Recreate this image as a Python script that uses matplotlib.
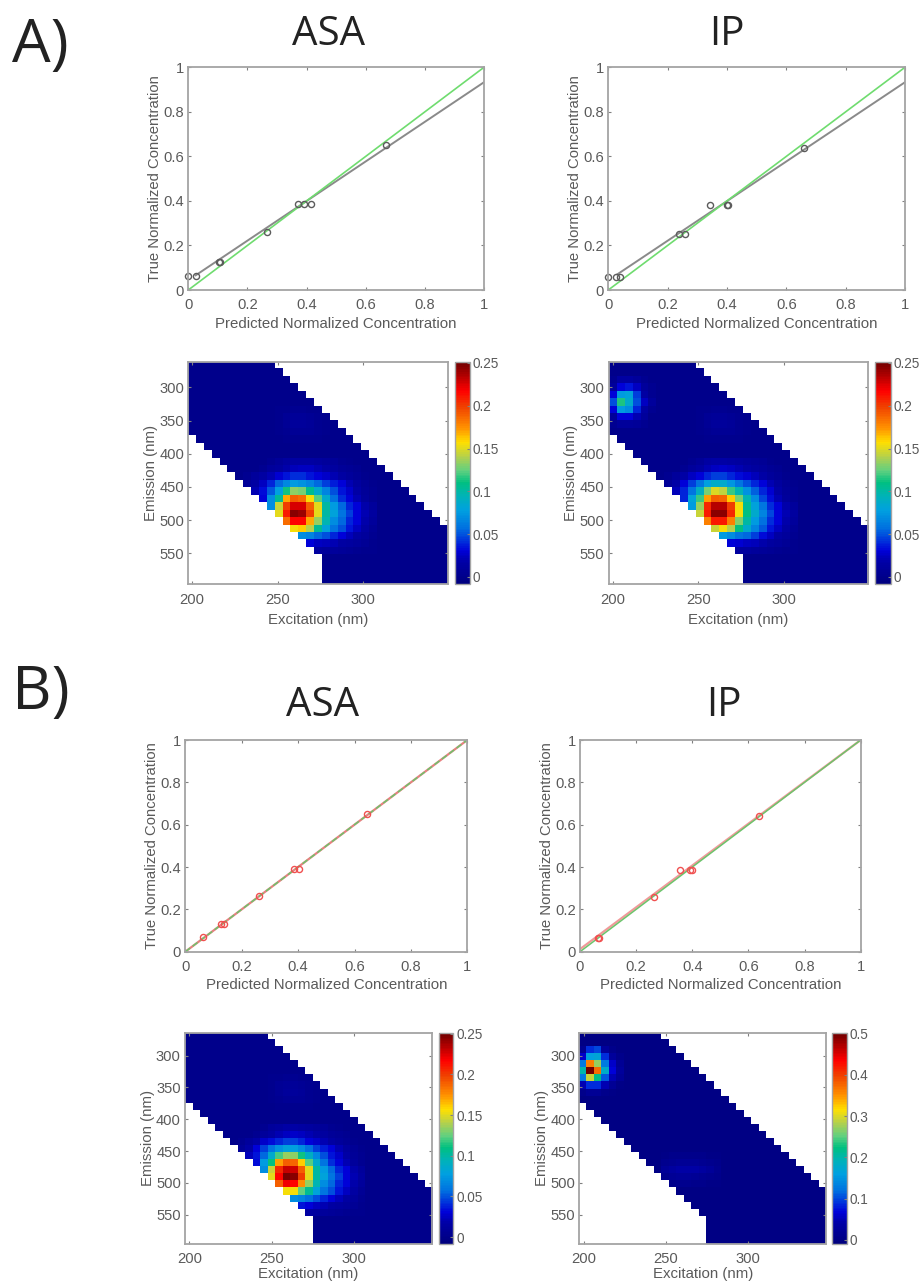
import numpy as np
import matplotlib
matplotlib.use("Agg")
import matplotlib.pyplot as plt
from matplotlib.colors import LinearSegmentedColormap

plt.rcParams['font.family'] = ['Liberation Sans', 'DejaVu Sans']

W, H = 921, 1281
GRAY_TEXT = '#5a5a5a'
GRAY_LINE = '#a4a4a4'

# scatter values (predicted, true)
a_asa_x = [0.0, 0.025, 0.105, 0.107, 0.266, 0.372, 0.391, 0.416, 0.669]
a_asa_y = [0.063, 0.063, 0.127, 0.127, 0.259, 0.388, 0.388, 0.388, 0.651]
a_ip_x = [0.0, 0.026, 0.039, 0.238, 0.258, 0.343, 0.399, 0.404, 0.66]
a_ip_y = [0.06, 0.06, 0.06, 0.253, 0.253, 0.382, 0.382, 0.382, 0.639]
b_asa_x = [0.061, 0.125, 0.138, 0.261, 0.385, 0.402, 0.644]
b_asa_y = [0.068, 0.131, 0.131, 0.261, 0.392, 0.392, 0.652]
b_ip_x = [0.065, 0.069, 0.262, 0.356, 0.393, 0.4, 0.638]
b_ip_y = [0.066, 0.066, 0.257, 0.386, 0.386, 0.386, 0.641]

# fit lines (two ends)
a_asa_fit_x = [0.025, 1]
a_asa_fit_y = [0.066, 0.933]
a_ip_fit_x = [0.03, 1]
a_ip_fit_y = [0.07, 0.933]
b_asa_fit_x = [0, 1]
b_asa_fit_y = [0, 1]
b_ip_fit_x = [0, 1]
b_ip_fit_y = [0.012, 1]
ideal_x = [0, 1]
ideal_y = [0, 1]

conc_ticks = [0, 0.2, 0.4, 0.6, 0.8, 1]
conc_labels = ['0', '0.2', '0.4', '0.6', '0.8', '1']
ex_ticks = [200, 250, 300]
em_ticks = [300, 350, 400, 450, 500, 550]
cbar_ticks_25 = [0, 0.05, 0.1, 0.15, 0.2, 0.25]
cbar_labels_25 = ['0', '0.05', '0.1', '0.15', '0.2', '0.25']
cbar_ticks_50 = [0, 0.1, 0.2, 0.3, 0.4, 0.5]
cbar_labels_50 = ['0', '0.1', '0.2', '0.3', '0.4', '0.5']

# colours of the colour bar, bottom to top
bar_stops = [(0, '#00007e'), (0.1, '#0000a8'), (0.148, '#0000d8'), (0.25, '#0070e0'), (0.33, '#00a0e0'),
             (0.40, '#00b4b4'), (0.456, '#00c080'), (0.51, '#60d080'), (0.57, '#b0d050'), (0.637, '#ffe000'),
             (0.706, '#ff9000'), (0.80, '#f04000'), (0.87, '#ff0000'), (1, '#700000')]

# EEM grid is 30 rows x 33 columns, measured cells per row
row_start = [0, 0, 0, 0, 0, 0, 0, 0, 0, 0, 1, 2, 3, 4, 5, 6, 7, 8, 9, 10,
             11, 12, 13, 14, 15, 16, 17, 17, 17, 17]
row_stop = [11, 12, 13, 14, 15, 16, 17, 18, 19, 20, 21, 22, 23, 24, 25, 26, 27, 28, 29, 30,
            31, 32, 33, 33, 33, 33, 33, 33, 33, 33]

# cell values around the main peak, rows 13-25, columns 7-23
a_asa_peak = [
    [0, 0, 0, .005, .008, .012, .015, .015, .015, .012, .01, .008, .005, .003, 0, 0, 0],
    [0, 0, .005, .01, .012, .018, .022, .025, .024, .02, .016, .012, .009, .006, .004, 0, 0],
    [.005, .01, .015, .02, .028, .036, .042, .042, .036, .03, .026, .02, .015, .01, .006, .003, 0],
    [.008, .015, .025, .04, .055, .068, .076, .072, .066, .055, .046, .038, .03, .02, .012, .006, .003],
    [0, .02, .033, .052, .078, .112, .132, .128, .106, .086, .066, .05, .036, .026, .016, .008, .004],
    [0, 0, .032, .07, .105, .17, .19, .185, .155, .122, .085, .058, .042, .03, .02, .01, .005],
    [0, 0, 0, .07, .145, .2, .225, .225, .19, .15, .1, .075, .055, .04, .03, .018, .01],
    [0, 0, 0, 0, .15, .21, .245, .24, .2, .15, .1, .08, .06, .045, .03, .02, .012],
    [0, 0, 0, 0, 0, .185, .215, .215, .17, .135, .095, .07, .055, .04, .03, .018, .01],
    [0, 0, 0, 0, 0, 0, .155, .16, .14, .105, .08, .06, .05, .035, .025, .015, .006],
    [0, 0, 0, 0, 0, 0, 0, .07, .065, .055, .05, .04, .03, .022, .015, .01, .004],
    [0, 0, 0, 0, 0, 0, 0, 0, .03, .025, .022, .02, .015, .012, .01, .006, .003],
    [0, 0, 0, 0, 0, 0, 0, 0, 0, .012, .01, .01, .008, .006, .004, .003, .002],
]
a_ip_peak = [
    [0, 0, 0, .005, .008, .014, .016, .016, .015, .013, .01, .008, .006, .003, 0, 0, 0],
    [0, 0, .005, .01, .014, .02, .024, .026, .025, .021, .017, .013, .01, .007, .004, 0, 0],
    [.005, .01, .016, .024, .03, .04, .045, .045, .04, .034, .028, .022, .016, .011, .006, .003, 0],
    [.008, .016, .03, .045, .06, .078, .088, .085, .074, .06, .05, .04, .03, .02, .012, .006, .003],
    [0, .022, .04, .06, .09, .128, .148, .142, .118, .095, .072, .054, .04, .028, .016, .008, .004],
    [0, 0, .04, .08, .118, .172, .19, .188, .16, .128, .095, .07, .048, .034, .02, .01, .005],
    [0, 0, 0, .075, .135, .205, .235, .235, .2, .155, .105, .08, .06, .042, .03, .018, .01],
    [0, 0, 0, 0, .145, .21, .245, .245, .205, .155, .11, .085, .065, .048, .03, .02, .012],
    [0, 0, 0, 0, 0, .18, .21, .21, .18, .13, .1, .075, .058, .042, .03, .018, .01],
    [0, 0, 0, 0, 0, 0, .145, .155, .14, .11, .085, .065, .052, .036, .025, .015, .006],
    [0, 0, 0, 0, 0, 0, 0, .075, .07, .06, .055, .045, .034, .024, .015, .01, .004],
    [0, 0, 0, 0, 0, 0, 0, 0, .03, .028, .025, .022, .018, .013, .01, .006, .003],
    [0, 0, 0, 0, 0, 0, 0, 0, 0, .012, .012, .01, .008, .006, .004, .003, .002],
]
b_asa_peak = [
    [0, 0, 0, .005, .01, .013, .016, .016, .015, .012, .01, .008, .005, .003, 0, 0, 0],
    [0, 0, .005, .01, .014, .02, .024, .026, .024, .02, .016, .012, .009, .006, .004, 0, 0],
    [.005, .01, .016, .026, .034, .04, .046, .046, .04, .032, .026, .02, .015, .01, .006, .003, 0],
    [.008, .016, .03, .045, .06, .072, .08, .078, .07, .058, .046, .038, .03, .02, .012, .006, .003],
    [0, .022, .036, .056, .085, .12, .135, .132, .112, .09, .068, .05, .036, .026, .016, .008, .004],
    [0, 0, .034, .075, .11, .172, .19, .188, .16, .122, .085, .06, .042, .03, .02, .01, .005],
    [0, 0, 0, .07, .145, .205, .23, .228, .19, .15, .1, .075, .055, .04, .03, .018, .01],
    [0, 0, 0, 0, .15, .215, .248, .245, .2, .15, .1, .08, .06, .045, .03, .02, .012],
    [0, 0, 0, 0, 0, .19, .22, .215, .175, .135, .095, .07, .055, .04, .03, .018, .01],
    [0, 0, 0, 0, 0, 0, .155, .155, .125, .105, .08, .06, .05, .035, .025, .015, .006],
    [0, 0, 0, 0, 0, 0, 0, .07, .065, .058, .05, .04, .03, .022, .015, .01, .004],
    [0, 0, 0, 0, 0, 0, 0, 0, .035, .03, .025, .02, .015, .012, .01, .006, .003],
    [0, 0, 0, 0, 0, 0, 0, 0, 0, .014, .012, .01, .008, .006, .004, .003, .002],
]
# faint lump near the top of the band, rows 6-10, columns 11-17
a_asa_faint = [
    [.002, .003, .004, .004, .003, .002, .001],
    [.003, .006, .008, .008, .006, .004, .002],
    [.003, .007, .01, .01, .008, .005, .002],
    [.003, .005, .007, .007, .006, .004, .002],
    [.001, .002, .003, .003, .002, .002, .001],
]
# second peak of the IP panels, rows 2-8, columns 0-5
a_ip_second = [
    [.005, .015, .015, .01, .005, 0],
    [.01, .03, .035, .025, .01, .005],
    [.03, .075, .08, .045, .015, .005],
    [.05, .115, .085, .05, .025, .01],
    [.03, .075, .07, .04, .015, .005],
    [.01, .03, .03, .02, .01, 0],
    [.005, .01, .01, .008, .005, 0],
]
b_ip_second = [
    [.015, .09, .1, .03, .008, 0],
    [.06, .16, .17, .09, .03, .01],
    [.13, .36, .27, .13, .06, .02],
    [.2, .5, .37, .18, .07, .03],
    [.13, .29, .22, .11, .05, .02],
    [.05, .09, .09, .05, .02, .005],
    [.01, .02, .02, .01, .005, 0],
]
# weak trace of the main peak in the B IP panel, rows 17-21, columns 11-18
b_ip_faint = [
    [.006, .008, .01, .01, .01, .008, .006, .004],
    [.012, .016, .02, .02, .02, .016, .012, .008],
    [.024, .032, .04, .04, .04, .032, .024, .014],
    [.014, .02, .024, .024, .022, .018, .014, .008],
    [.006, .01, .012, .012, .01, .008, .006, .004],
]


def px_axes(fig, left, top, right, bottom):
    return fig.add_axes([left / W, 1 - bottom / H, (right - left) / W, (bottom - top) / H])


def style_box(ax, xpad):
    for s in ax.spines.values():
        s.set_color(GRAY_LINE)
        s.set_linewidth(1.3)
    ax.tick_params(direction='in', length=2, width=0.8, color='#808080', top=True, right=True,
                   labelcolor=GRAY_TEXT, labelsize=10.6, pad=3)
    ax.tick_params(axis='x', pad=xpad)


def conc_panel(fig, box, x, y, fit_x, fit_y, col, fit_col, xpad):
    ax = px_axes(fig, *box)
    if col == 'red':
        ax.plot(fit_x, fit_y, color=fit_col, lw=1.6)
        ax.plot(ideal_x, ideal_y, color='#6cc46c', lw=1.1, dashes=(4, 2) if fit_y[0] == 0 else (None, None))
        mc = '#f05050'
    else:
        ax.plot(fit_x, fit_y, color=fit_col, lw=1.4)
        ax.plot(ideal_x, ideal_y, color='#6fdc6f', lw=1.2)
        mc = '#5c5c5c'
    ax.plot(x, y, 'o', mfc='none', mec=mc, mew=1.0, ms=4.4, clip_on=False)
    ax.set_xlim(0, 1)
    ax.set_ylim(0, 1)
    ax.set_xticks(conc_ticks, conc_labels)
    ax.set_yticks(conc_ticks, conc_labels)
    style_box(ax, 6)
    ax.set_xlabel('Predicted Normalized Concentration', fontsize=10.8, color=GRAY_TEXT, labelpad=xpad)
    ax.set_ylabel('True Normalized Concentration', fontsize=10.7, color=GRAY_TEXT, labelpad=1)


def heat_panel(fig, box, cbox, patches, xlim, ylim, vlim, cticks, clabels, xpad):
    grid = np.zeros((30, 33))
    for values, r0, c0 in patches:
        values = np.array(values)
        grid[r0:r0 + values.shape[0], c0:c0 + values.shape[1]] = values
    mask = np.ones_like(grid, dtype=bool)
    for r in range(30):
        mask[r, row_start[r]:row_stop[r]] = False
    cmap = LinearSegmentedColormap.from_list('bar', bar_stops, N=128)
    cmap.set_bad('white')
    ax = px_axes(fig, *box)
    im = ax.imshow(np.ma.array(grid, mask=mask), cmap=cmap, vmin=vlim[0], vmax=vlim[1], aspect='auto',
                   interpolation='nearest', extent=[xlim[0], xlim[1], ylim[1], ylim[0]])
    ax.set_xticks(ex_ticks)
    ax.set_yticks(em_ticks)
    style_box(ax, 6)
    ax.set_xlabel('Excitation (nm)', fontsize=10.8, color=GRAY_TEXT, labelpad=xpad)
    ax.set_ylabel('Emission (nm)', fontsize=10.8, color=GRAY_TEXT, labelpad=1)
    cax = px_axes(fig, *cbox)
    cb = fig.colorbar(im, cax=cax)
    cb.set_ticks(cticks, labels=clabels)
    cb.outline.set_edgecolor(GRAY_LINE)
    cb.outline.set_linewidth(1.0)
    cax.tick_params(direction='in', length=2, width=0.8, color='#808080', labelcolor=GRAY_TEXT,
                    labelsize=9.8, pad=2)


fig = plt.figure(figsize=(W / 100, H / 100), dpi=100)

conc_panel(fig, (188.3, 67.3, 484, 290), a_asa_x, a_asa_y, a_asa_fit_x, a_asa_fit_y, 'gray', '#8a8a8a', 3)
conc_panel(fig, (608.3, 67.3, 905, 290), a_ip_x, a_ip_y, a_ip_fit_x, a_ip_fit_y, 'gray', '#8a8a8a', 3)
conc_panel(fig, (185.3, 740, 467.3, 951.7), b_asa_x, b_asa_y, b_asa_fit_x, b_asa_fit_y, 'red', '#e88080', 3)
conc_panel(fig, (580, 740, 860.7, 951.7), b_ip_x, b_ip_y, b_ip_fit_x, b_ip_fit_y, 'red', '#f09a9a', 3)

a_xlim = (197.7, 349.3)
a_ylim = (261.5, 596.5)
b_xlim = (197.4, 347.6)
b_ylim = (264, 596)

heat_panel(fig, (188.3, 361.7, 447.7, 584.3), (454.7, 361.7, 470, 584.3),
           [(a_asa_faint, 6, 11), (a_asa_peak, 13, 7)], a_xlim, a_ylim, (-0.0086, 0.2514),
           cbar_ticks_25, cbar_labels_25, 4.5)
heat_panel(fig, (608.7, 361.7, 868.3, 584.3), (875, 361.7, 890.7, 584.3),
           [(a_asa_faint, 6, 11), (a_ip_peak, 13, 7), (a_ip_second, 2, 0)], a_xlim, a_ylim,
           (-0.0086, 0.2514), cbar_ticks_25, cbar_labels_25, 4.5)
heat_panel(fig, (185, 1032.7, 432.3, 1244), (438.7, 1032.7, 453.3, 1244),
           [(a_asa_faint, 6, 11), (b_asa_peak, 13, 7)], b_xlim, b_ylim, (-0.0086, 0.2514),
           cbar_ticks_25, cbar_labels_25, 0.5)
heat_panel(fig, (579.3, 1032.7, 826.3, 1244), (832.3, 1032.7, 847, 1244),
           [(b_ip_faint, 17, 11), (b_ip_second, 2, 0)], b_xlim, b_ylim, (-0.0097, 0.5016),
           cbar_ticks_50, cbar_labels_50, 0.5)

# panel letters and titles
for s, x, y, fs in [('A)', 40, 46, 44), ('B)', 41, 693, 44), ('ASA', 329, 35, 29), ('IP', 727, 35, 29),
                    ('ASA', 323, 706, 29), ('IP', 724, 706, 29)]:
    fig.text(x / W, 1 - y / H, s, ha='center', va='center', fontsize=fs, color='#222222',
             family=['Open Sans', 'DejaVu Sans'])

fig.savefig('out.png', dpi=100)
